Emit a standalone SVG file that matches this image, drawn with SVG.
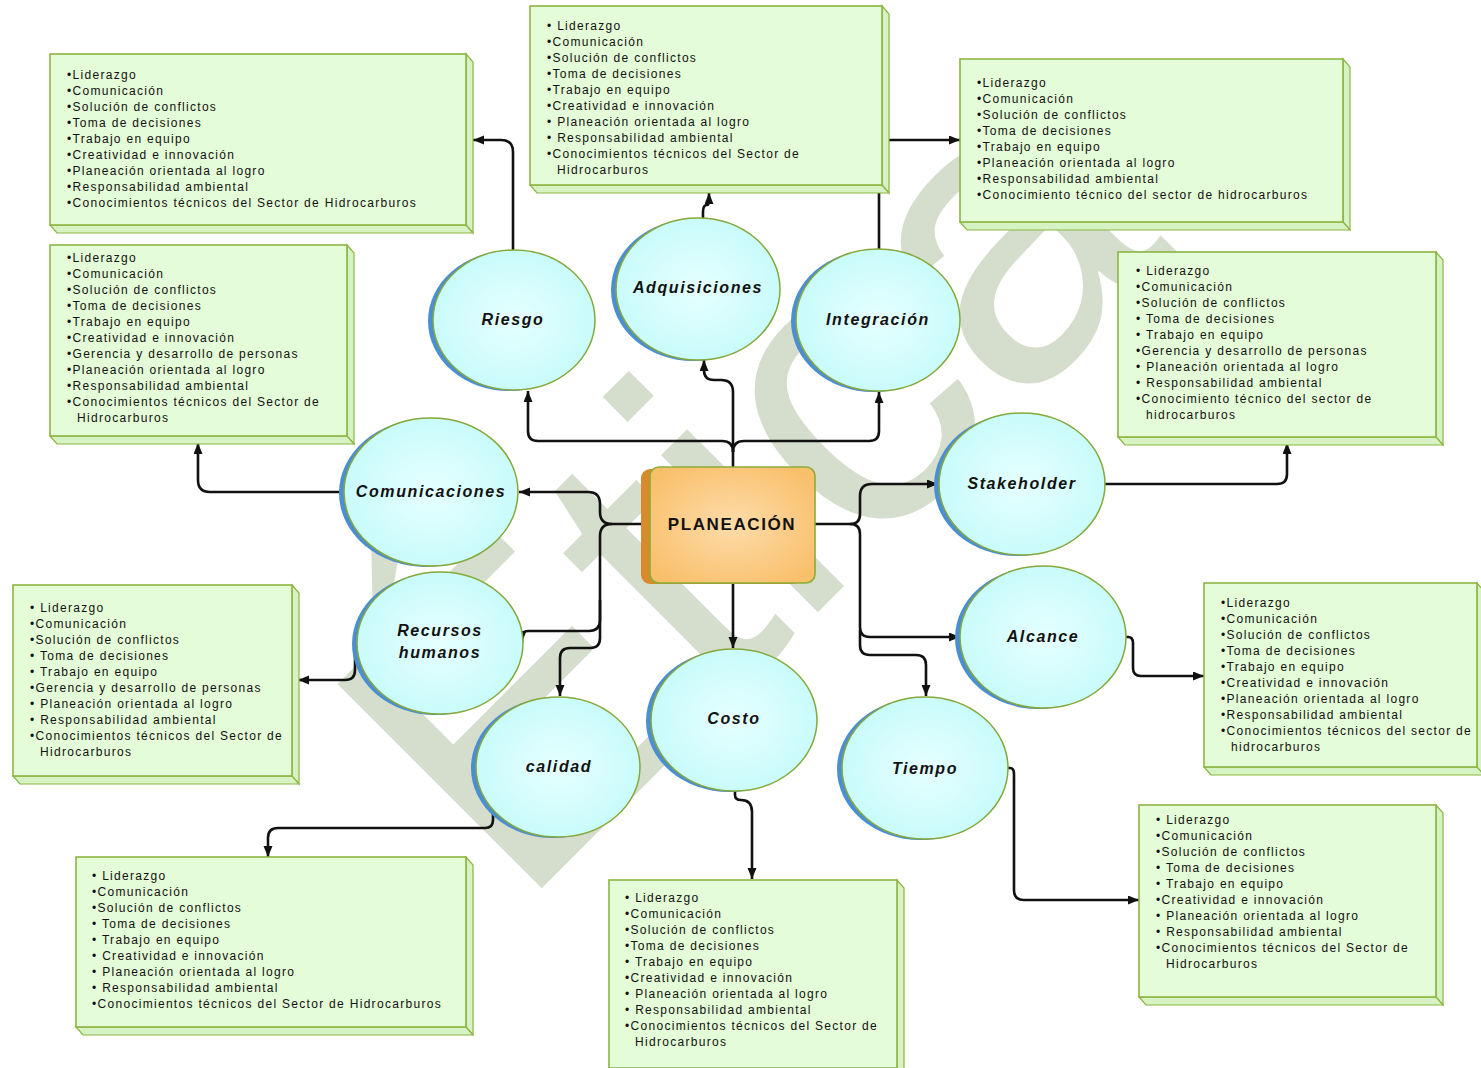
<svg xmlns="http://www.w3.org/2000/svg" width="1481" height="1068" viewBox="0 0 1481 1068">
<defs>
<radialGradient id="gEll" cx="50%" cy="50%" r="60%">
<stop offset="0" stop-color="#e6ffff"/>
<stop offset="1" stop-color="#c4fafa"/>
</radialGradient>
<radialGradient id="gCen" cx="50%" cy="50%" r="60%">
<stop offset="0" stop-color="#fddcaa"/>
<stop offset="1" stop-color="#f9c06c"/>
</radialGradient>
<marker id="arr" markerUnits="userSpaceOnUse" markerWidth="12" markerHeight="10" refX="11" refY="4.5" orient="auto">
<path d="M0,0 L11,4.5 L0,9 z" fill="#111"/>
</marker>
<style>
.front{fill:#e4fcd7;stroke:#8db543;stroke-width:1.6}
.side{fill:#d6f3c3;stroke:#8db543;stroke-width:1.2}
.t{font-family:"Liberation Sans",Arial,sans-serif;font-size:12px;letter-spacing:1.3px;fill:#111}
.sh{fill:#4a8fd2}
.ell{fill:url(#gEll);stroke:#86a83a;stroke-width:1.5}
.lab{font-family:"Liberation Sans",Arial,sans-serif;font-size:16px;font-weight:bold;font-style:italic;letter-spacing:1.6px;fill:#111;text-anchor:middle}
.con path{fill:none;stroke:#111;stroke-width:2.6;stroke-linejoin:round;stroke-linecap:butt}
.wm{font-family:"Liberation Sans",Arial,sans-serif;font-size:420px;fill:#d5ddcc;text-anchor:middle}
</style>
</defs>
<rect width="1481" height="1068" fill="#fff"/>
<text class="wm" transform="translate(745,480) rotate(-45)" y="145">Ética</text>

<g id="connectors" class="con">
<path d="M733,467 V452 Q733,441 722,441 H538 Q528,441 528,431 V391" marker-end="url(#arr)"/>
<path d="M733,452 Q733,441 744,441 H869 Q879,441 879,431 V392" marker-end="url(#arr)"/>
<path d="M733,452 V392 Q733,380 721,380 H714 Q704,380 704,370 V360" marker-end="url(#arr)"/>
<path d="M703,218 V212 Q703,205 707,205 Q709,205 709,200 V193" marker-end="url(#arr)"/>
<path d="M513,250 V152 Q513,140 501,140 H473" marker-end="url(#arr)"/>
<path d="M879,250 V152 Q879,140 891,140 H960" marker-end="url(#arr)"/>
<path d="M650,524 H612 Q600,524 600,512 V504 Q600,492 588,492 H519" marker-end="url(#arr)"/>
<path d="M612,524 Q600,524 600,536 V620 Q600,631 589,631 H528 Q522,631 522,637 V642" marker-end="url(#arr)"/>
<path d="M600,600 V638 Q600,648 590,648 H570 Q560,648 560,658 V696" marker-end="url(#arr)"/>
<path d="M345,492 H210 Q198,492 198,480 V443" marker-end="url(#arr)"/>
<path d="M358,643 Q355,643 355,650 V670 Q355,680 345,680 H298" marker-end="url(#arr)"/>
<path d="M478,767 H487 Q493,767 493,773 V820 Q493,828 485,828 H278 Q268,828 268,838 V857" marker-end="url(#arr)"/>
<path d="M733,583 V648" marker-end="url(#arr)"/>
<path d="M735,791 V795 Q735,800 741,800 Q752,800 752,812 V879" marker-end="url(#arr)"/>
<path d="M815,524 H850 Q860,524 860,514 V496 Q860,484 872,484 H938" marker-end="url(#arr)"/>
<path d="M850,524 Q860,524 860,534 V627 Q860,637 870,637 H960" marker-end="url(#arr)"/>
<path d="M860,630 V645 Q860,655 870,655 H916 Q926,655 926,665 V696" marker-end="url(#arr)"/>
<path d="M1105,484 H1277 Q1287,484 1287,474 V443" marker-end="url(#arr)"/>
<path d="M1126,637 H1128 Q1133,637 1133,643 V668 Q1133,676 1141,676 H1204" marker-end="url(#arr)"/>
<path d="M1008,768 H1010 Q1014,768 1014,774 V890 Q1014,900 1024,900 H1139" marker-end="url(#arr)"/>
</g>

<g id="planeacion">
<rect x="641" y="469" width="160" height="115" rx="9" fill="#d98b2b"/>
<rect x="650" y="467" width="165" height="116" rx="9" fill="url(#gCen)" stroke="#8aac3a" stroke-width="1.6"/>
<text x="732" y="530" font-family="Liberation Sans, Arial, sans-serif" font-size="17" font-weight="bold" letter-spacing="1.6" fill="#111" text-anchor="middle">PLANEACIÓN</text>
</g>

<g id="riesgo"><ellipse class="sh" cx="509" cy="321" rx="81" ry="70"/><ellipse class="ell" cx="514" cy="320" rx="81" ry="70"/><text class="lab" x="513" y="325">Riesgo</text></g>
<g id="adquisiciones"><ellipse class="sh" cx="693" cy="290" rx="82" ry="71"/><ellipse class="ell" cx="698" cy="289" rx="82" ry="71"/><text class="lab" x="698" y="293">Adquisiciones</text></g>
<g id="integracion"><ellipse class="sh" cx="873" cy="321" rx="82" ry="71"/><ellipse class="ell" cx="878" cy="320" rx="82" ry="71"/><text class="lab" x="878" y="325" font-style="normal" letter-spacing="2.2">Integración</text></g>
<g id="stakeholder"><ellipse class="sh" cx="1017" cy="485" rx="83" ry="71"/><ellipse class="ell" cx="1022" cy="484" rx="83" ry="71"/><text class="lab" x="1022" y="489">Stakeholder</text></g>
<g id="comunicaciones"><ellipse class="sh" cx="426" cy="493" rx="87" ry="74"/><ellipse class="ell" cx="431" cy="492" rx="87" ry="74"/><text class="lab" x="431" y="497">Comunicaciones</text></g>
<g id="recursos"><ellipse class="sh" cx="435" cy="644" rx="83" ry="71"/><ellipse class="ell" cx="440" cy="643" rx="83" ry="71"/><text class="lab" x="440" y="636">Recursos</text><text class="lab" x="440" y="658">humanos</text></g>
<g id="alcance"><ellipse class="sh" cx="1038" cy="638" rx="83" ry="71"/><ellipse class="ell" cx="1043" cy="637" rx="83" ry="71"/><text class="lab" x="1043" y="642">Alcance</text></g>
<g id="calidad"><ellipse class="sh" cx="553" cy="768" rx="82" ry="70"/><ellipse class="ell" cx="558" cy="767" rx="82" ry="70"/><text class="lab" x="559" y="772">calidad</text></g>
<g id="costo"><ellipse class="sh" cx="729" cy="721" rx="83" ry="71"/><ellipse class="ell" cx="734" cy="720" rx="83" ry="71"/><text class="lab" x="734" y="724">Costo</text></g>
<g id="tiempo"><ellipse class="sh" cx="920" cy="769" rx="83" ry="71"/><ellipse class="ell" cx="925" cy="768" rx="83" ry="71"/><text class="lab" x="925" y="774">Tiempo</text></g>

<g id="box-riesgo">
<polygon class="side" points="466,54 473,62 473,233 466,225"/>
<polygon class="side" points="50,225 466,225 473,233 57,233"/>
<rect class="front" x="50" y="54" width="416" height="171"/>
<text class="t" x="67" y="79">•Liderazgo</text>
<text class="t" x="67" y="95">•Comunicación</text>
<text class="t" x="67" y="111">•Solución de conflictos</text>
<text class="t" x="67" y="127">•Toma de decisiones</text>
<text class="t" x="67" y="143">•Trabajo en equipo</text>
<text class="t" x="67" y="159">•Creatividad e innovación</text>
<text class="t" x="67" y="175">•Planeación orientada al logro</text>
<text class="t" x="67" y="191">•Responsabilidad ambiental</text>
<text class="t" x="67" y="207">•Conocimientos técnicos del Sector de  Hidrocarburos</text>
</g>

<g id="box-adquisiciones">
<polygon class="side" points="882,6 889,14 889,193 882,185"/>
<polygon class="side" points="530,185 882,185 889,193 537,193"/>
<rect class="front" x="530" y="6" width="352" height="179"/>
<text class="t" x="547" y="30">• Liderazgo</text>
<text class="t" x="547" y="46">•Comunicación</text>
<text class="t" x="547" y="62">•Solución de conflictos</text>
<text class="t" x="547" y="78">•Toma de decisiones</text>
<text class="t" x="547" y="94">•Trabajo en equipo</text>
<text class="t" x="547" y="110">•Creatividad e innovación</text>
<text class="t" x="547" y="126">• Planeación orientada al logro</text>
<text class="t" x="547" y="142">• Responsabilidad ambiental</text>
<text class="t" x="547" y="158">•Conocimientos técnicos del Sector de</text>
<text class="t" x="557" y="174">Hidrocarburos</text>
</g>

<g id="box-integracion">
<polygon class="side" points="1343,59 1350,67 1350,230 1343,222"/>
<polygon class="side" points="960,222 1343,222 1350,230 967,230"/>
<rect class="front" x="960" y="59" width="383" height="163"/>
<text class="t" x="977" y="87">•Liderazgo</text>
<text class="t" x="977" y="103">•Comunicación</text>
<text class="t" x="977" y="119">•Solución de conflictos</text>
<text class="t" x="977" y="135">•Toma de decisiones</text>
<text class="t" x="977" y="151">•Trabajo en equipo</text>
<text class="t" x="977" y="167">•Planeación orientada al logro</text>
<text class="t" x="977" y="183">•Responsabilidad ambiental</text>
<text class="t" x="977" y="199">•Conocimiento técnico del sector de hidrocarburos</text>
</g>

<g id="box-stakeholder">
<polygon class="side" points="1436,252 1443,260 1443,445 1436,437"/>
<polygon class="side" points="1118,437 1436,437 1443,445 1125,445"/>
<rect class="front" x="1118" y="252" width="318" height="185"/>
<text class="t" x="1136" y="275">• Liderazgo</text>
<text class="t" x="1136" y="291">•Comunicación</text>
<text class="t" x="1136" y="307">•Solución de conflictos</text>
<text class="t" x="1136" y="323">• Toma de decisiones</text>
<text class="t" x="1136" y="339">• Trabajo en equipo</text>
<text class="t" x="1136" y="355">•Gerencia y desarrollo de personas</text>
<text class="t" x="1136" y="371">• Planeación orientada al logro</text>
<text class="t" x="1136" y="387">• Responsabilidad ambiental</text>
<text class="t" x="1136" y="403">•Conocimiento técnico del sector de</text>
<text class="t" x="1146" y="419">hidrocarburos</text>
</g>

<g id="box-comunicaciones">
<polygon class="side" points="347,245 354,253 354,444 347,436"/>
<polygon class="side" points="50,436 347,436 354,444 57,444"/>
<rect class="front" x="50" y="245" width="297" height="191"/>
<text class="t" x="67" y="262">•Liderazgo</text>
<text class="t" x="67" y="278">•Comunicación</text>
<text class="t" x="67" y="294">•Solución de conflictos</text>
<text class="t" x="67" y="310">•Toma de decisiones</text>
<text class="t" x="67" y="326">•Trabajo en equipo</text>
<text class="t" x="67" y="342">•Creatividad e innovación</text>
<text class="t" x="67" y="358">•Gerencia y desarrollo de personas</text>
<text class="t" x="67" y="374">•Planeación orientada al logro</text>
<text class="t" x="67" y="390">•Responsabilidad ambiental</text>
<text class="t" x="67" y="406">•Conocimientos técnicos del Sector de</text>
<text class="t" x="77" y="422">Hidrocarburos</text>
</g>

<g id="box-recursos">
<polygon class="side" points="292,585 299,593 299,784 292,776"/>
<polygon class="side" points="13,776 292,776 299,784 20,784"/>
<rect class="front" x="13" y="585" width="279" height="191"/>
<text class="t" x="30" y="612">• Liderazgo</text>
<text class="t" x="30" y="628">•Comunicación</text>
<text class="t" x="30" y="644">•Solución de conflictos</text>
<text class="t" x="30" y="660">• Toma de decisiones</text>
<text class="t" x="30" y="676">• Trabajo en equipo</text>
<text class="t" x="30" y="692">•Gerencia y desarrollo de personas</text>
<text class="t" x="30" y="708">• Planeación orientada al logro</text>
<text class="t" x="30" y="724">• Responsabilidad ambiental</text>
<text class="t" x="30" y="740">•Conocimientos técnicos del Sector de</text>
<text class="t" x="40" y="756">Hidrocarburos</text>
</g>

<g id="box-calidad">
<polygon class="side" points="466,857 473,865 473,1035 466,1027"/>
<polygon class="side" points="76,1027 466,1027 473,1035 83,1035"/>
<rect class="front" x="76" y="857" width="390" height="170"/>
<text class="t" x="92" y="880">• Liderazgo</text>
<text class="t" x="92" y="896">•Comunicación</text>
<text class="t" x="92" y="912">•Solución de conflictos</text>
<text class="t" x="92" y="928">• Toma de decisiones</text>
<text class="t" x="92" y="944">• Trabajo en equipo</text>
<text class="t" x="92" y="960">• Creatividad e innovación</text>
<text class="t" x="92" y="976">• Planeación orientada al logro</text>
<text class="t" x="92" y="992">• Responsabilidad ambiental</text>
<text class="t" x="92" y="1008">•Conocimientos técnicos del Sector de  Hidrocarburos</text>
</g>

<g id="box-costo">
<polygon class="side" points="897,880 904,888 904,1076 897,1068"/>
<rect class="front" x="609" y="880" width="288" height="188"/>
<text class="t" x="625" y="902">• Liderazgo</text>
<text class="t" x="625" y="918">•Comunicación</text>
<text class="t" x="625" y="934">•Solución de conflictos</text>
<text class="t" x="625" y="950">•Toma de decisiones</text>
<text class="t" x="625" y="966">• Trabajo en equipo</text>
<text class="t" x="625" y="982">•Creatividad e innovación</text>
<text class="t" x="625" y="998">• Planeación orientada al logro</text>
<text class="t" x="625" y="1014">• Responsabilidad ambiental</text>
<text class="t" x="625" y="1030">•Conocimientos técnicos del Sector de</text>
<text class="t" x="635" y="1046">Hidrocarburos</text>
</g>

<g id="box-tiempo">
<polygon class="side" points="1436,805 1443,813 1443,1005 1436,997"/>
<polygon class="side" points="1139,997 1436,997 1443,1005 1146,1005"/>
<rect class="front" x="1139" y="805" width="297" height="192"/>
<text class="t" x="1156" y="824">• Liderazgo</text>
<text class="t" x="1156" y="840">•Comunicación</text>
<text class="t" x="1156" y="856">•Solución de conflictos</text>
<text class="t" x="1156" y="872">• Toma de decisiones</text>
<text class="t" x="1156" y="888">• Trabajo en equipo</text>
<text class="t" x="1156" y="904">•Creatividad e innovación</text>
<text class="t" x="1156" y="920">• Planeación orientada al logro</text>
<text class="t" x="1156" y="936">• Responsabilidad ambiental</text>
<text class="t" x="1156" y="952">•Conocimientos técnicos del Sector de</text>
<text class="t" x="1166" y="968">Hidrocarburos</text>
</g>

<g id="box-alcance">
<polygon class="side" points="1477,583 1484,591 1484,775 1477,767"/>
<polygon class="side" points="1204,767 1477,767 1484,775 1211,775"/>
<rect class="front" x="1204" y="583" width="273" height="184"/>
<text class="t" x="1221" y="607">•Liderazgo</text>
<text class="t" x="1221" y="623">•Comunicación</text>
<text class="t" x="1221" y="639">•Solución de conflictos</text>
<text class="t" x="1221" y="655">•Toma de decisiones</text>
<text class="t" x="1221" y="671">•Trabajo en equipo</text>
<text class="t" x="1221" y="687">•Creatividad e innovación</text>
<text class="t" x="1221" y="703">•Planeación orientada al logro</text>
<text class="t" x="1221" y="719">•Responsabilidad ambiental</text>
<text class="t" x="1221" y="735">•Conocimientos técnicos  del sector de</text>
<text class="t" x="1231" y="751">hidrocarburos</text>
</g>
</svg>
